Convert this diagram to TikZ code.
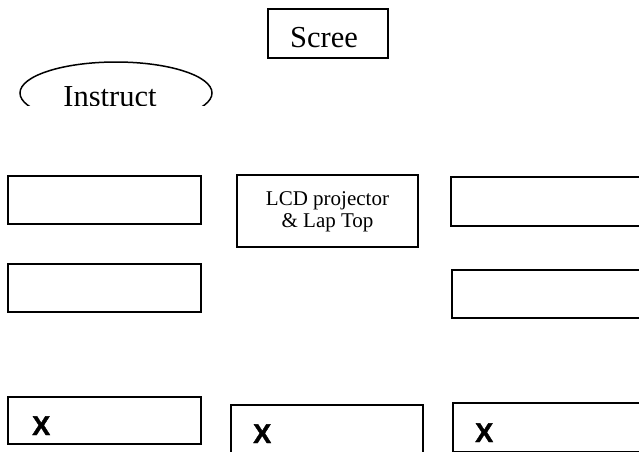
\documentclass[tikz,border=0pt]{standalone}
\usepackage{fontspec}
\setmainfont{Liberation Serif}
\newfontfamily\arialbold{Liberation Sans}[UprightFont={Liberation Sans Bold}, UprightFeatures={FakeBold=1.5}]
\usetikzlibrary{shapes.geometric}
\begin{document}
\begin{tikzpicture}[x=1pt,y=-1pt,
  box/.style={draw=black, line width=1.5pt, rectangle, inner sep=0pt},
  oval/.style={draw=black, line width=1.5pt, ellipse, inner sep=0pt},
  bigtext/.style={font=\fontsize{30.5}{30.5}\selectfont, inner sep=0pt, anchor=base},
  midtext/.style={font=\fontsize{21}{22.5}\selectfont, inner sep=0pt, align=center},
  xlab/.style={font=\arialbold\fontsize{27}{27}\selectfont, inner sep=0pt, anchor=base west}]
\useasboundingbox (0,0) rectangle (639,451);
\clip (0,0) rectangle (639,451);
% Screen
\node[box, minimum width=120pt, minimum height=49pt] (screen) at (328,33.5) {};
\begin{scope}
  \clip (0,0) rectangle (639,47.5);
  \node[bigtext] (screentxt) at (324,47) {Scree};
\end{scope}
% Instructor
\begin{scope}
  \clip (0,0) rectangle (639,105);
  \node[oval, minimum width=192pt, minimum height=62pt] (instr) at (116,93) {};
  \node[bigtext] (instrtxt) at (110,106) {Instruct};
\end{scope}
% Row 1
\node[box, minimum width=193pt, minimum height=48pt] (r1l) at (104.5,200) {};
\node[box, minimum width=181pt, minimum height=72pt] (lcd) at (327.5,211) {};
\node[midtext] (lcdtxt) at (327.5,212) {LCD projector\\\& Lap Top};
\node[box, minimum width=200pt, minimum height=49pt] (r1r) at (551,201.5) {};
% Row 2
\node[box, minimum width=193pt, minimum height=48pt] (r2l) at (104.5,288) {};
\node[box, minimum width=200pt, minimum height=48pt] (r2r) at (552,294) {};
% Row 3
\node[box, minimum width=193pt, minimum height=47pt] (r3l) at (104.5,420.5) {};
\node[box, minimum width=192pt, minimum height=55pt] (r3m) at (327,432.5) {};
\node[box, minimum width=200pt, minimum height=48.5pt] (r3r) at (553,427.25) {};
\node[xlab] (x1) at (32,435) {X};
\node[xlab] (x2) at (253,443) {X};
\node[xlab] (x3) at (475,442) {X};
\end{tikzpicture}
\end{document}
